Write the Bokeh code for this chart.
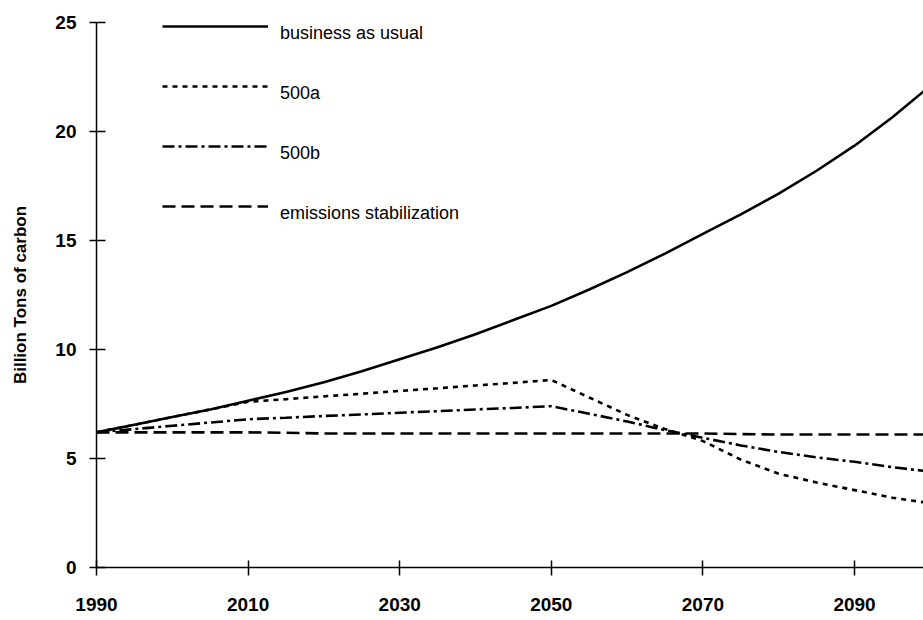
from bokeh.plotting import figure
from bokeh.models import Legend, LegendItem, FixedTicker, Range1d
from bokeh.core.properties import value
from bokeh.embed import file_html
from bokeh.resources import INLINE

# ---- data (every 5 years) ----
years = [1990, 1995, 2000, 2005, 2010, 2015, 2020, 2025, 2030, 2035, 2040, 2045,
         2050, 2055, 2060, 2065, 2070, 2075, 2080, 2085, 2090, 2095, 2100]
business_as_usual = [6.2, 6.55, 6.9, 7.25, 7.65, 8.05, 8.5, 9.0, 9.55, 10.1, 10.7, 11.35,
                     12.0, 12.75, 13.55, 14.4, 15.3, 16.2, 17.15, 18.2, 19.35, 20.65, 22.1]
s500a = [6.2, 6.55, 6.9, 7.25, 7.6, 7.72, 7.85, 7.97, 8.1, 8.22, 8.35, 8.47,
         8.6, 7.8, 7.0, 6.35, 5.8, 4.95, 4.3, 3.9, 3.55, 3.2, 2.95]
s500b = [6.2, 6.35, 6.5, 6.65, 6.8, 6.87, 6.95, 7.02, 7.1, 7.17, 7.25, 7.32,
         7.4, 7.05, 6.7, 6.3, 5.95, 5.6, 5.3, 5.05, 4.85, 4.6, 4.4]
stabilization = [6.2, 6.2, 6.2, 6.2, 6.2, 6.18, 6.15, 6.15, 6.15, 6.15, 6.15, 6.15,
                 6.15, 6.15, 6.15, 6.15, 6.15, 6.12, 6.1, 6.1, 6.1, 6.1, 6.1]

series_labels = ["business as usual", "500a", "500b", "emissions stabilization"]
x_ticks = [1990, 2010, 2030, 2050, 2070, 2090]
y_ticks = [0, 5, 10, 15, 20, 25]
y_title = "Billion Tons of carbon"

FONT = "Liberation Sans"

p = figure(width=923, height=620, output_backend="svg", toolbar_location=None,
           x_range=Range1d(1990, 2099.1), y_range=Range1d(0, 25),
           min_border_left=96, min_border_right=0, min_border_top=22, min_border_bottom=53)
p.outline_line_color = None
p.grid.visible = False
p.background_fill_color = "white"
p.border_fill_color = "white"

# axes
p.xaxis.ticker = FixedTicker(ticks=x_ticks)
p.yaxis.ticker = FixedTicker(ticks=y_ticks)
for ax in (p.xaxis[0], p.yaxis[0]):
    ax.axis_line_color = "black"
    ax.axis_line_width = 1.5
    ax.major_tick_line_color = "black"
    ax.major_tick_line_width = 1.5
    ax.minor_tick_line_color = None
    ax.major_label_text_font = FONT
    ax.major_label_text_font_style = "bold"
    ax.major_label_text_color = "black"

p.xaxis.major_tick_in = 7
p.xaxis.major_tick_out = 8
p.xaxis.major_label_standoff = 22
p.xaxis.major_label_text_font_size = "19px"

p.yaxis.major_tick_in = 9
p.yaxis.major_tick_out = 7
p.yaxis.major_label_standoff = 13
p.yaxis.major_label_text_font_size = "19px"
p.yaxis.axis_label = y_title
p.yaxis.axis_label_text_font = FONT
p.yaxis.axis_label_text_font_style = "bold"
p.yaxis.axis_label_text_font_size = "17px"
p.yaxis.axis_label_text_color = "black"
p.yaxis.axis_label_standoff = 22

# lines
r_stab = p.line(years, stabilization, line_color="black", line_width=2.6, line_dash="13 6")
r_b = p.line(years, s500b, line_color="black", line_width=2.6, line_dash="12 4 3 4")
r_a = p.line(years, s500a, line_color="black", line_width=2.6, line_dash="5 5")
r_bau = p.line(years, business_as_usual, line_color="black", line_width=2.6)
renderers = [r_bau, r_a, r_b, r_stab]

common = dict(glyph_height=8, label_height=34, spacing=26,
              padding=0, margin=0, border_line_color=None, background_fill_alpha=0,
              label_text_font=FONT, label_text_font_size="18px", label_text_color="black")

# legend samples (line glyphs only)
legend_glyphs = Legend(
    items=[LegendItem(label=value(""), renderers=[r]) for r in renderers],
    location=(66, 344), glyph_width=106, label_standoff=0, **common)
# legend texts, set slightly lower than the samples as in the reference
legend_texts = Legend(
    items=[LegendItem(label=lab, renderers=[r]) for lab, r in zip(series_labels, renderers)],
    location=(184, 337), glyph_width=0, label_standoff=0, **common)
p.add_layout(legend_glyphs)
p.add_layout(legend_texts)

open("out.html", "w").write(file_html(p, INLINE))
